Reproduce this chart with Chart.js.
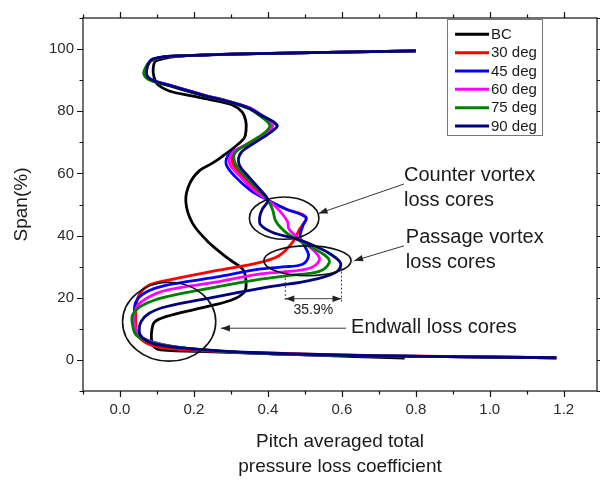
<!DOCTYPE html>
<html>
<head>
<meta charset="utf-8">
<script src="https://cdn.jsdelivr.net/npm/chart.js@4.4.1/dist/chart.umd.min.js"></script>
<style>
  html, body { margin: 0; padding: 0; background: #ffffff; }
  #wrap { width: 600px; height: 484px; position: relative; }
</style>
</head>
<body>
<div id="wrap"><canvas id="c" width="600" height="484"></canvas></div>
<script>
// ---- data: [pitch averaged total pressure loss coefficient, span %] ----
const bc = [[0.77,0.6],[0.5,1.6],[0.25,2.6],[0.11,3.2],[0.09,4.5],[0.085,7],[0.086,9.5],[0.093,12.1],[0.124,13.9],[0.214,16.6],[0.30,19.2],[0.336,21.8],[0.341,25],[0.333,29],[0.295,32.4],[0.241,37.7],[0.196,44],[0.178,51],[0.188,56.6],[0.215,60.9],[0.25,63.3],[0.278,65.6],[0.31,68.5],[0.336,71.4],[0.341,74],[0.34,77],[0.33,79.8],[0.304,82],[0.25,83.6],[0.19,85],[0.133,86.5],[0.103,88.5],[0.092,91],[0.09,94],[0.098,96.3],[0.18,97.9],[0.48,98.8],[0.80,99.4]];
const deg30 = [[1.18,0.7],[0.7,1.4],[0.376,2.3],[0.2,3.1],[0.12,3.8],[0.075,5.2],[0.05,7.5],[0.043,11],[0.043,16],[0.05,20.5],[0.075,23.8],[0.124,25.5],[0.259,28.7],[0.376,31.3],[0.43,33.5],[0.466,37.7],[0.485,41.9],[0.503,46],[0.45,48.5],[0.40,51.4],[0.372,54.5],[0.336,58.8],[0.306,63],[0.307,66.5],[0.345,69.5],[0.395,73],[0.41,75.5],[0.377,78.8],[0.35,80.9],[0.296,83],[0.224,85.2],[0.134,88.3],[0.08,90.4],[0.068,92.8],[0.09,96.7],[0.18,97.9],[0.48,98.8],[0.80,99.4]];
const deg45 = [[1.18,0.7],[0.7,1.3],[0.376,2.1],[0.169,3.9],[0.07,6.5],[0.043,9.2],[0.039,14.5],[0.043,18.7],[0.07,21.8],[0.124,24],[0.259,26.6],[0.376,29.2],[0.44,29.9],[0.494,30.8],[0.51,33.5],[0.50,36.5],[0.487,39.5],[0.494,43],[0.503,45.8],[0.45,48.5],[0.40,51.4],[0.354,54.5],[0.313,58.8],[0.287,63],[0.296,66.2],[0.35,69.5],[0.40,73],[0.425,75.3],[0.382,78.8],[0.352,81],[0.297,83.1],[0.225,85.3],[0.135,88.4],[0.08,90.5],[0.07,93],[0.09,96.7],[0.18,97.9],[0.48,98.8],[0.80,99.4]];
const deg60 = [[1.18,0.7],[0.7,1.3],[0.376,2.1],[0.169,3.9],[0.079,6],[0.048,8.6],[0.039,12.3],[0.043,16.6],[0.07,19.7],[0.124,22.4],[0.259,25],[0.376,27.6],[0.45,28.4],[0.512,29.5],[0.539,32],[0.53,34.5],[0.48,39.5],[0.457,42],[0.453,44.5],[0.43,48.2],[0.40,51.4],[0.363,54.5],[0.327,58.8],[0.297,63],[0.302,66.3],[0.345,69.5],[0.395,73],[0.413,75.5],[0.378,78.9],[0.35,81],[0.296,83.1],[0.224,85.2],[0.134,88.3],[0.079,90.4],[0.068,92.8],[0.09,96.7],[0.18,97.9],[0.48,98.8],[0.80,99.4]];
const deg75 = [[1.18,0.7],[0.7,1.3],[0.376,2.1],[0.169,3.9],[0.079,5.8],[0.043,8.1],[0.034,11.3],[0.034,14.5],[0.061,17.6],[0.124,20.3],[0.259,23.4],[0.376,25.9],[0.46,27.2],[0.539,28.5],[0.566,31.3],[0.557,33.4],[0.512,36.6],[0.457,40.3],[0.435,42.5],[0.42,45],[0.413,48.2],[0.40,51.4],[0.376,54.5],[0.342,58.8],[0.313,63],[0.31,66.4],[0.345,69.5],[0.39,73],[0.405,75.5],[0.375,78.8],[0.348,80.9],[0.295,83],[0.222,85.1],[0.133,88.2],[0.076,90.3],[0.064,92.5],[0.09,96.7],[0.18,97.9],[0.48,98.8],[0.80,99.4]];
const deg90 = [[1.18,0.7],[0.7,1.3],[0.376,2.3],[0.214,3.4],[0.097,5],[0.061,7.1],[0.052,9.2],[0.057,12.3],[0.079,15],[0.124,17.1],[0.259,20.3],[0.376,22.9],[0.42,23.8],[0.512,25.5],[0.584,28.2],[0.597,31],[0.57,34],[0.53,36.5],[0.475,39],[0.413,41],[0.38,43.5],[0.378,46],[0.385,48.5],[0.40,51.4],[0.381,54.5],[0.349,58.8],[0.322,63],[0.327,66.6],[0.36,69.5],[0.405,73],[0.425,75.5],[0.38,78.8],[0.35,80.9],[0.295,83],[0.223,85.2],[0.133,88.3],[0.08,90.5],[0.072,93],[0.088,96.8],[0.18,97.9],[0.48,98.8],[0.80,99.4]];

const seriesNames = ['BC','30 deg','45 deg','60 deg','75 deg','90 deg'];
const seriesData = [bc, deg30, deg45, deg60, deg75, deg90];
const seriesColors = ['#000000','#ff0000','#0000ff','#ff00ff','#008000','#000080'];

const xTickValues = [-0.1,0.0,0.1,0.2,0.3,0.4,0.5,0.6,0.7,0.8,0.9,1.0,1.1,1.2];
const xTickLabels = ['','0.0','','0.2','','0.4','','0.6','','0.8','','1.0','','1.2'];
const yTickValues = [-10,0,10,20,30,40,50,60,70,80,90,100,110];
const yTickLabels = ['','0','','20','','40','','60','','80','','100',''];

const xTitleLines = ['Pitch averaged total','pressure loss coefficient'];
const yTitle = 'Span(%)';

// annotation texts
const notes = {
  counter: { text: ['Counter vortex','loss cores'] },
  passage: { text: ['Passage vortex','loss cores'] },
  endwall: { text: ['Endwall loss cores'] },
  gap: { text: '35.9%' }
};

const FONT = "'Liberation Sans', Arial, Helvetica, sans-serif";

const decorPlugin = {
  id: 'decor',
  afterDraw(chart) {
    const ctx = chart.ctx;
    const xs = chart.scales.x, ys = chart.scales.y;
    const a = chart.chartArea;
    const X = v => xs.getPixelForValue(v);
    const Y = v => ys.getPixelForValue(v);
    ctx.save();
    // frame
    ctx.strokeStyle = '#111';
    ctx.lineWidth = 1.2;
    ctx.strokeRect(a.left, a.top, a.right - a.left, a.bottom - a.top);
    // ticks
    ctx.beginPath();
    xTickValues.forEach((v, i) => {
      const len = xTickLabels[i] ? 6 : 3.5;
      const p = Math.round(X(v)) + 0.5;
      ctx.moveTo(p, a.bottom); ctx.lineTo(p, a.bottom + len);
      ctx.moveTo(p, a.top); ctx.lineTo(p, a.top - len);
    });
    yTickValues.forEach((v, i) => {
      const len = yTickLabels[i] ? 6 : 3.5;
      const p = Math.round(Y(v)) + 0.5;
      ctx.moveTo(a.left, p); ctx.lineTo(a.left - len, p);
      ctx.moveTo(a.right, p); ctx.lineTo(a.right + len, p);
    });
    ctx.stroke();

    // axis titles
    ctx.fillStyle = '#1a1a1a';
    ctx.font = '19px ' + FONT;
    ctx.textAlign = 'center';
    ctx.textBaseline = 'middle';
    const cx = (a.left + a.right) / 2;
    ctx.fillText(xTitleLines[0], cx, 442);
    ctx.fillText(xTitleLines[1], cx, 467);
    ctx.save();
    ctx.translate(22, (a.top + a.bottom) / 2);
    ctx.rotate(-Math.PI / 2);
    ctx.fillText(yTitle, 0, 0);
    ctx.restore();

    // ellipses
    ctx.strokeStyle = '#111';
    ctx.lineWidth = 1.6;
    const ell = (x, y, rx, ry) => {
      ctx.beginPath();
      ctx.ellipse(X(x), Y(y), Math.abs(X(x + rx) - X(x)), Math.abs(Y(y + ry) - Y(y)), 0, 0, Math.PI * 2);
      ctx.stroke();
    };
    ell(0.444, 45.6, 0.094, 6.8);
    ell(0.507, 31.9, 0.118, 4.8);
    ell(0.133, 12.3, 0.126, 12.7);

    // arrows
    const arrow = (x1, y1, x2, y2) => {
      const p1x = X(x1), p1y = Y(y1), p2x = X(x2), p2y = Y(y2);
      ctx.strokeStyle = '#333';
      ctx.lineWidth = 1;
      ctx.beginPath(); ctx.moveTo(p1x, p1y); ctx.lineTo(p2x, p2y); ctx.stroke();
      const ang = Math.atan2(p2y - p1y, p2x - p1x);
      const L = 9, W = 3.2;
      ctx.fillStyle = '#222';
      ctx.beginPath();
      ctx.moveTo(p2x, p2y);
      ctx.lineTo(p2x - L * Math.cos(ang) + W * Math.sin(ang), p2y - L * Math.sin(ang) - W * Math.cos(ang));
      ctx.lineTo(p2x - L * Math.cos(ang) - W * Math.sin(ang), p2y - L * Math.sin(ang) + W * Math.cos(ang));
      ctx.closePath(); ctx.fill();
    };
    arrow(0.768, 56.6, 0.537, 47.1);
    arrow(0.768, 36.7, 0.633, 31.9);
    arrow(0.611, 10.2, 0.273, 10.2);

    // annotation texts
    ctx.fillStyle = '#1a1a1a';
    ctx.font = '20px ' + FONT;
    ctx.textAlign = 'left';
    ctx.textBaseline = 'middle';
    ctx.fillText(notes.counter.text[0], X(0.768), Y(59.3));
    ctx.fillText(notes.counter.text[1], X(0.768), Y(51.4));
    ctx.fillText(notes.passage.text[0], X(0.773), Y(39.3));
    ctx.fillText(notes.passage.text[1], X(0.773), Y(31.3));
    ctx.fillText(notes.endwall.text[0], X(0.625), Y(10.3));

    // 35.9% dimension
    ctx.strokeStyle = '#444';
    ctx.lineWidth = 1;
    ctx.setLineDash([2, 2]);
    ctx.beginPath();
    ctx.moveTo(X(0.447), Y(30.2)); ctx.lineTo(X(0.447), Y(18.6));
    ctx.moveTo(X(0.599), Y(29.7)); ctx.lineTo(X(0.599), Y(18.6));
    ctx.stroke();
    ctx.setLineDash([]);
    const yy = Y(19.7);
    ctx.beginPath(); ctx.moveTo(X(0.447), yy); ctx.lineTo(X(0.599), yy); ctx.stroke();
    ctx.fillStyle = '#222';
    const head = (px, dir) => {
      ctx.beginPath();
      ctx.moveTo(px, yy);
      ctx.lineTo(px - dir * 9, yy - 3.2);
      ctx.lineTo(px - dir * 9, yy + 3.2);
      ctx.closePath(); ctx.fill();
    };
    head(X(0.447), -1);
    head(X(0.599), 1);
    ctx.font = '14px ' + FONT;
    ctx.textAlign = 'center';
    ctx.fillStyle = '#222';
    ctx.fillText(notes.gap.text, X(0.523), Y(16.0));

    // legend box
    const lx = 447, ly = 19, lw = 95, lh = 116;
    ctx.fillStyle = '#ffffff';
    ctx.fillRect(lx, ly, lw, lh);
    ctx.strokeStyle = '#777';
    ctx.lineWidth = 1;
    ctx.strokeRect(lx + 0.5, ly + 0.5, lw, lh);
    ctx.font = '15px ' + FONT;
    ctx.textAlign = 'left';
    ctx.textBaseline = 'middle';
    seriesNames.forEach((name, i) => {
      const ry = 34.3 + i * 18.35;
      ctx.strokeStyle = seriesColors[i];
      ctx.lineWidth = 3;
      ctx.beginPath(); ctx.moveTo(455, ry); ctx.lineTo(489, ry); ctx.stroke();
      ctx.fillStyle = '#1a1a1a';
      ctx.fillText(name, 491, ry + 0.5);
    });
    ctx.restore();
  }
};

new Chart(document.getElementById('c'), {
  type: 'scatter',
  data: {
    datasets: seriesData.map((d, i) => ({
      label: seriesNames[i],
      data: d.map(p => ({ x: p[0], y: p[1] })),
      showLine: true,
      order: seriesData.length - i,
      borderColor: seriesColors[i],
      backgroundColor: seriesColors[i],
      borderWidth: 2.8,
      pointRadius: 0,
      tension: 0.35
    }))
  },
  options: {
    responsive: false,
    animation: false,
    devicePixelRatio: 1,
    layout: { padding: { left: 0, right: 3, top: 12, bottom: 0 } },
    plugins: { legend: { display: false }, tooltip: { enabled: false } },
    scales: {
      x: {
        type: 'linear',
        min: -0.1, max: 1.29,
        afterBuildTicks: s => { s.ticks = xTickValues.map(v => ({ value: v })); },
        afterFit: s => { s.height = 93; },
        grid: { display: false, drawTicks: false },
        border: { display: false },
        ticks: {
          autoSkip: false, maxRotation: 0, padding: 10,
          color: '#2a2a2a', font: { family: FONT, size: 15 },
          callback: (v, i) => xTickLabels[i]
        }
      },
      y: {
        type: 'linear',
        min: -10, max: 110,
        afterBuildTicks: s => { s.ticks = yTickValues.map(v => ({ value: v })); },
        afterFit: s => { s.width = 83; },
        grid: { display: false, drawTicks: false },
        border: { display: false },
        ticks: {
          autoSkip: false, padding: 9,
          color: '#2a2a2a', font: { family: FONT, size: 15 },
          callback: (v, i) => yTickLabels[i]
        }
      }
    }
  },
  plugins: [decorPlugin]
});
</script>
</body>
</html>
